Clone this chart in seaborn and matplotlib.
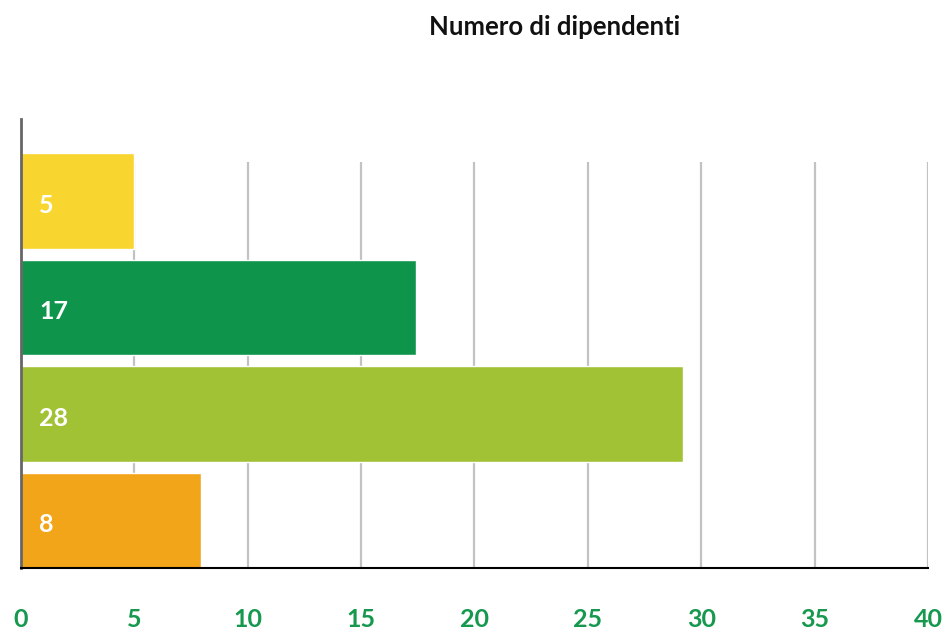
import matplotlib
matplotlib.use("Agg")
import matplotlib.pyplot as plt
import seaborn as sns
import pandas as pd
import numpy as np

# values (labels show the rounded figures)
categories = ["Cat 1", "Cat 2", "Cat 3", "Cat 4"]
bar_values = [5.0, 17.4, 29.2, 7.95]
bar_labels = ["5", "17", "28", "8"]
bar_colors = ["#F9D52F", "#0E954B", "#A2C235", "#F2A519"]
x_ticks = [0, 5, 10, 15, 20, 25, 30, 35, 40]
title = "Numero di dipendenti"

sns.set_style("white")
plt.rcParams["font.family"] = ["Lato", "DejaVu Sans"]

df = pd.DataFrame({"cat": categories, "val": bar_values})

fig = plt.figure(figsize=(9.5, 6.35), dpi=100)
ax = fig.add_axes([0.0221, 0.1055, 0.9547, 0.7071])

sns.barplot(data=df, x="val", y="cat", hue="cat", palette=bar_colors,
            legend=False, orient="h", width=0.895, saturation=1, ax=ax)

ax.set_xlim(0, 40)
ax.set_ylim(3.4475, -0.77)

# vertical grid lines, starting a little under the top of the first bar
ax.vlines(x_ticks[1:], ymin=-0.365, ymax=3.4475, color="#c2c2c2", lw=1.6, zorder=0)

for i, lab in enumerate(bar_labels):
    ax.annotate(lab, xy=(0, i), xytext=(13, -3), textcoords="offset points",
                ha="left", va="center", color="white", fontsize=18, fontweight="bold")

ax.set_xticks(x_ticks)
ax.set_xticklabels([str(t) for t in x_ticks])
ax.tick_params(axis="x", length=0, pad=29, labelsize=18, labelcolor="#16984F")
for t in ax.get_xticklabels():
    t.set_fontweight("bold")
ax.set_yticks([])
ax.set_xlabel("")
ax.set_ylabel("")

for s in ["top", "right"]:
    ax.spines[s].set_visible(False)
ax.spines["bottom"].set_color("black")
ax.spines["bottom"].set_linewidth(1.5)
ax.spines["left"].set_color("#666666")
ax.spines["left"].set_linewidth(2)

fig.text(0.584, 0.957, title, ha="center", va="center", fontsize=18.5,
         fontweight="bold", color="#111111")

fig.savefig("out.png", dpi=100)
